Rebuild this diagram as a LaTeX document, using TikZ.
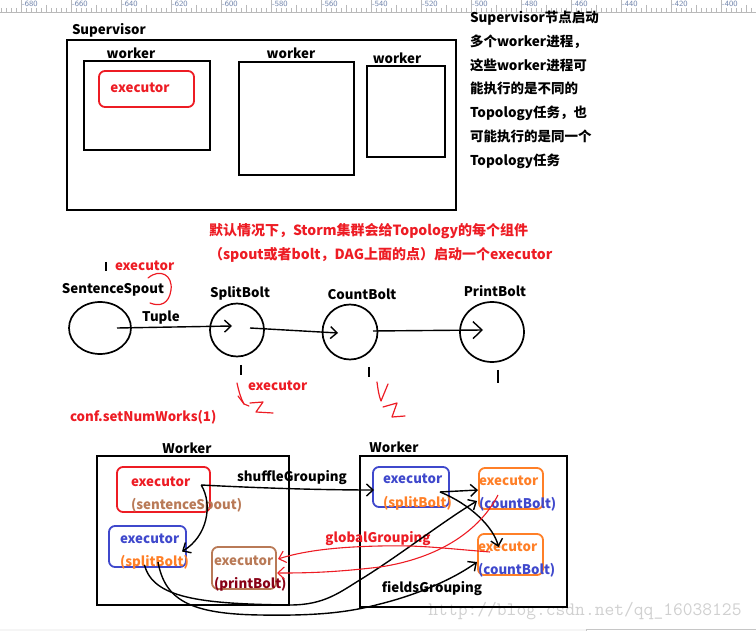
\documentclass[tikz,border=0pt]{standalone}
\usepackage{fontspec}
\setmainfont{Noto Sans CJK SC}
\usetikzlibrary{positioning,arrows.meta,shapes.geometric}
\definecolor{pred}{RGB}{237,28,36}
\definecolor{pblue}{RGB}{63,72,204}
\definecolor{porange}{RGB}{255,127,39}
\definecolor{pbrown}{RGB}{185,122,87}
\definecolor{pdark}{RGB}{136,0,21}
\definecolor{rulertxt}{RGB}{110,130,170}
\definecolor{wmgray}{RGB}{208,208,208}
\begin{document}
\begin{tikzpicture}[x=1pt,y=-1pt]
  \tikzset{
    every node/.style={inner sep=0pt,outer sep=0pt,font=\bfseries\fontsize{13.3}{15}\selectfont},
    frame/.style={draw,line width=2.4pt},
    exec/.style={draw,line width=1.8pt,rounded corners=6pt},
    comp/.style={draw,ellipse,line width=1.7pt},
    flow/.style={line width=1.4pt,-{Straight Barb[length=6.5pt,width=12pt]}},
    redflow/.style={flow,draw=pred,line width=1.1pt},
    doodle/.style={pred,line width=1.2pt,line cap=round,line join=round},
    stroke/.style={line width=1.6pt}
  }
  \useasboundingbox (0,0) rectangle (756,631);

  \draw[gray!55] (0,12) -- (756,12);
  \foreach \i in {0,...,151} {\draw[gray!55] (\i*5+1,8) -- (\i*5+1,12);}
  \foreach \k [evaluate=\k as \lbl using int(-680+20*\k)] in {0,...,14} {
    \draw[gray!55] (21+50*\k,0) -- (21+50*\k,12);
    \draw[gray!55] (46+50*\k,5) -- (46+50*\k,12);
    \node[anchor=west,text=rulertxt,font=\sffamily\fontsize{8}{8}\selectfont] (tick\k) at (22+50*\k,3.5) {\lbl};
  }

  \node[text=wmgray,font=\ttfamily\fontsize{19}{19}\selectfont] (wm) at (585,611) {http://blog.csdn.net/qq\_16038125};
  \fill[gray!8] (0,629) rectangle (586,631);
  \draw[gray!45] (586,631) -- (586,629) -- (756,629);

  \node[frame,minimum width=389pt,minimum height=170pt] (sup) at (261.5,125) {};
  \node[anchor=west] (suplbl) at (72,30) {Supervisor};
  \node[frame,minimum width=126pt,minimum height=89pt] (w1) at (147,105.5) {};
  \node (w1lbl) at (131,53) {worker};
  \node[exec,draw=pred,minimum width=95pt,minimum height=36pt] (ex0) at (146.5,89) {};
  \node[text=pred] (ex0lbl) at (140,88) {executor};
  \node[frame,minimum width=115pt,minimum height=113pt] (w2) at (296.5,118.5) {};
  \node (w2lbl) at (291,53) {worker};
  \node[frame,minimum width=78pt,minimum height=91pt] (w3) at (406,111.5) {};
  \node (w3lbl) at (397,58) {worker};
  \node[anchor=north west,align=left,font=\bfseries\fontsize{13.5}{23.8}\selectfont] (note) at (470,11)
    {Supervisor节点启动\\多个worker进程，\\这些worker进程可\\能执行的是不同的\\Topology任务，也\\可能执行的是同一个\\Topology任务};

  \node[anchor=north west,align=left,text=pred,font=\bfseries\fontsize{14}{24}\selectfont] (deflt) at (209,223)
    {默认情况下，Storm集群会给Topology的每个组件\\（spout或者bolt，DAG上面的点）启动一个executor};

  \node[comp,minimum width=62pt,minimum height=52pt] (sp) at (100,328) {};
  \node[comp,minimum width=54pt,minimum height=53pt] (split) at (237,330) {};
  \node[comp,minimum width=55pt,minimum height=55pt] (count) at (350,332) {};
  \node[comp,minimum width=64pt,minimum height=60pt] (print) at (492,332) {};
  \node (splbl) at (113,290) {SentenceSpout};
  \node[above=3pt of split,xshift=3pt] (splitlbl) {SplitBolt};
  \node (countlbl) at (362,294) {CountBolt};
  \node[above=5pt of print,xshift=3pt] (printlbl) {PrintBolt};
  \node (tuple) at (161,318) {Tuple};

  \draw[flow] ([xshift=17pt]sp.center) -- ([xshift=-5pt,yshift=4pt]split.center);
  \draw[flow] ([xshift=13pt,yshift=2pt]split.center) -- ([xshift=-12pt,yshift=-1pt]count.center);
  \draw[flow,-{Straight Barb[length=9pt,width=17pt]}] ([xshift=23pt,yshift=1pt]count.center) -- ([xshift=-9pt,yshift=2pt]print.center);

  \draw[stroke] (106,262) -- (106,271);
  \node[text=pred,anchor=west] (spex) at (115,266) {executor};
  \draw[doodle] (148,278) .. controls (160,268) and (173,275) .. (171,290) .. controls (169,304) and (160,307) .. (150,303);
  \draw[stroke] (241,365) -- (241,375);
  \draw[stroke] (369,367) -- (369,377);
  \draw[stroke] (498,370) -- (498,383);
  \node[text=pred,anchor=west] (splitex) at (248,386) {executor};
  \draw[doodle] (237,383) .. controls (239,392) and (241,399) .. (244,404) -- (249,406);
  \draw[doodle] (238,396) -- (244,404);
  \draw[doodle] (250,403) -- (263,402) -- (256,412) -- (273,413);
  \draw[doodle] (377,382) .. controls (378,390) and (379,396) .. (381,401) -- (388,384);
  \draw[doodle] (383,407) -- (397,403) -- (392,417) -- (405,416);
  \node[text=pred,anchor=west] (conf) at (70,417) {conf.setNumWorks(1)};

  \node[frame,minimum width=192pt,minimum height=149pt] (lw) at (193,530.5) {};
  \node (lwlbl) at (187,448) {Worker};
  \node[frame,minimum width=207pt,minimum height=151pt] (rw) at (463.5,531.5) {};
  \node (rwlbl) at (394,447) {Worker};

  \node[exec,draw=pred,minimum width=93pt,minimum height=45pt] (e1) at (163.5,489.5) {};
  \node[text=pred,anchor=west] (e1a) at (131,482) {executor};
  \node[text=pbrown,anchor=west] (e1b) at (131,505) {(sentenceSpout)};
  \node[exec,draw=pblue,minimum width=77pt,minimum height=41pt] (e2) at (147.5,546.5) {};
  \node[text=pblue,anchor=west] (e2a) at (120,539) {executor};
  \node[text=porange,anchor=west] (e2b) at (120,562) {(splitBolt)};
  \node[exec,draw=pbrown,minimum width=64pt,minimum height=42pt] (e3) at (244,568) {};
  \node[text=pbrown,anchor=west] (e3a) at (214,561) {executor};
  \node[text=pdark,anchor=west] (e3b) at (214,584) {(printBolt)};
  \node[exec,draw=pblue,minimum width=76pt,minimum height=40pt] (e4) at (411,487) {};
  \node[text=pblue,anchor=west] (e4a) at (383,479) {executor};
  \node[text=porange,anchor=west] (e4b) at (383,503) {(splitBolt)};
  \node[exec,draw=porange,minimum width=64pt,minimum height=41pt] (e5) at (511,488.5) {};
  \node[text=porange,anchor=west] (e5a) at (479,481) {executor};
  \node[text=pblue,anchor=west] (e5b) at (479,504) {(countBolt)};
  \node[exec,draw=porange,minimum width=65pt,minimum height=41pt] (e6) at (510.5,554.5) {};
  \node[text=porange,anchor=west] (e6a) at (478,547) {executor};
  \node[text=pblue,anchor=west] (e6b) at (478,570) {(countBolt)};

  \node (shuffle) at (292,478) {shuffleGrouping};
  \node[text=pred] (global) at (378,539) {globalGrouping};
  \node (fields) at (432,589) {fieldsGrouping};

  \draw[flow] ([shift={(11,3)}]e1a.east) .. controls +(57,3) and +(-54,0) .. ([shift={(1,3)}]e4.west);
  \draw[flow] ([shift={(11,3)}]e1a.east) .. controls +(12,20) and +(25,-15) .. ([shift={(-4,5)}]e2.east);
  \draw[flow] ([shift={(-9,5)}]e4.east) -- ([shift={(-1,1.5)}]e5.west);
  \draw[flow] ([shift={(-9,5)}]e4.east) .. controls +(30,12) and +(-5,-20) .. ([shift={(-12,13)}]e6.north);
  \draw[flow] ([shift={(-3,-2)}]e2.south) .. controls (153,598) and (200,604) .. (290,605)
    .. controls (325,605) and (340,592) .. (363,578) .. controls (400,555) and (445,520) .. ([shift={(-2,12.5)}]e5.west);
  \draw[flow] ([shift={(10.5,-5)}]e2.south) .. controls (165,600) and (190,614) .. (260,615)
    .. controls (320,616) and (350,612) .. (380,604) .. controls (420,594) and (455,578) .. ([shift={(-1,7.5)}]e6.west);
  \draw[redflow] ([shift={(-13,6.5)}]e5.center) .. controls (480,530) and (440,558) .. (380,567)
    .. controls (330,573) and (300,573) .. ([shift={(1,5)}]e3.east);
  \draw[redflow] ([shift={(-20.5,-2.5)}]e6.center) .. controls (440,548) and (420,545) .. (380,546)
    .. controls (330,547) and (300,552) .. ([shift={(2,-9)}]e3.east);
\end{tikzpicture}
\end{document}
